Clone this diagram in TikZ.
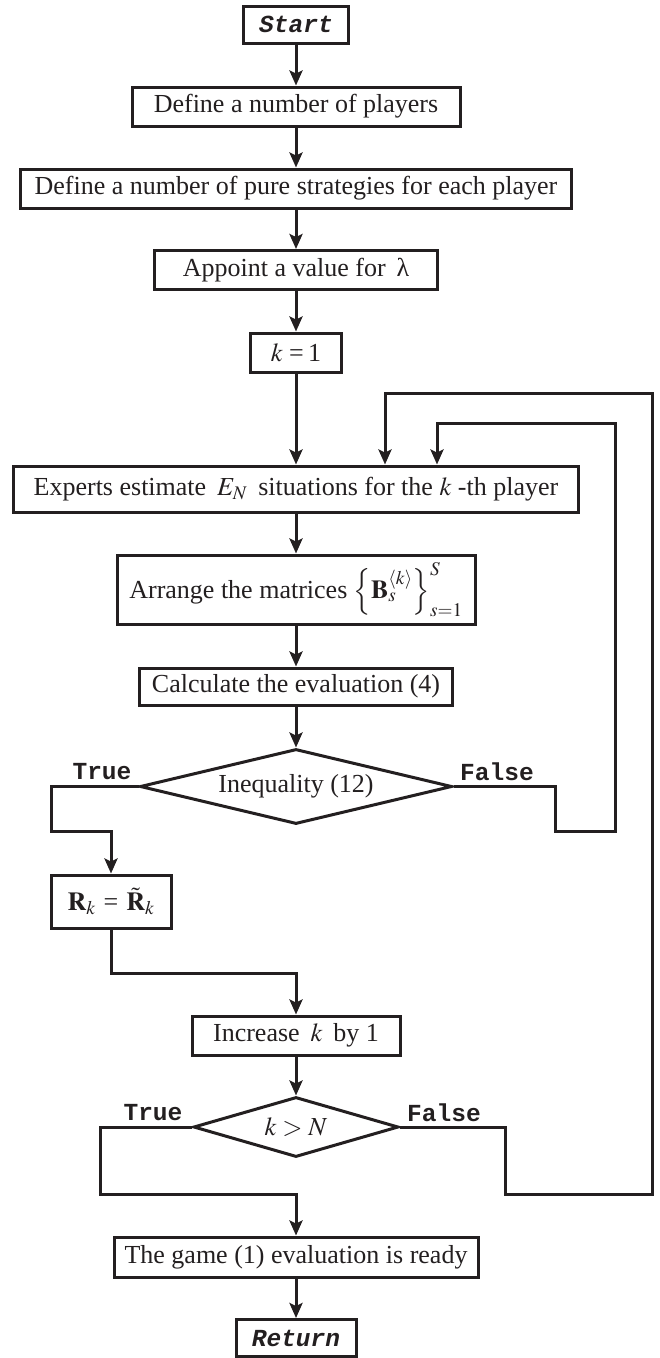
\documentclass[tikz,border=0pt]{standalone}
\usepackage{mathptmx}
\usepackage[no-math]{fontspec}
\setmainfont{Liberation Serif}
\setmonofont{Liberation Mono}
\usepackage{tikz}
\usetikzlibrary{shapes.geometric,arrows.meta}
\definecolor{ink}{HTML}{231F20}

\begin{document}
\begin{tikzpicture}[x=1pt, y=-1pt, line width=3pt, color=ink,
    flow/.style={-{Stealth[length=15pt,width=13pt,inset=3pt]}},
    stepbox/.style={draw, rectangle, inner sep=0pt, minimum height=39pt,
        font=\fontsize{26}{31}\selectfont},
    decision/.style={draw, diamond, aspect=4, inner sep=0pt,
        font=\fontsize{26}{31}\selectfont},
    terminal/.style={stepbox, font=\fontsize{24.5}{29}\selectfont\ttfamily\bfseries\itshape},
    branch/.style={font=\fontsize{24.5}{29}\selectfont\ttfamily\bfseries}]
    \useasboundingbox (0,0) rectangle (660,1358);

    % main column
    \node[terminal, minimum width=105pt, minimum height=37pt] (start) at (296,24.5) {Start};
    \node[stepbox, minimum width=328pt] (players) at (296,106.5) {Define a number of players};
    \node[stepbox, minimum width=551pt] (pure) at (296,188.5) {Define a number of pure strategies for each player};
    \node[stepbox, minimum width=283pt] (lambda) at (296,270) {Appoint a value for \,λ};
    \node[stepbox, minimum width=91pt] (kone) at (296,352.5) {$k$ =\,1};
    \node[stepbox, minimum width=565pt, minimum height=46pt] (experts) at (296,489) {Experts estimate \,$E_N$\, situations for the $k$ -th player};
    \node[stepbox, minimum width=358pt, minimum height=69pt] (arrange) at (296,589.5) {Arrange the matrices $\left\{\mathbf{B}_s^{\langle k\rangle}\right\}_{s=1}^{S}$};
    \node[stepbox, minimum width=313pt, minimum height=37pt] (calc) at (296,686.5) {Calculate the evaluation (4)};
    \node[decision, minimum width=312pt, minimum height=75pt] (ineq) at (296,786.5) {Inequality (12)};
    \node[stepbox, minimum width=120pt, minimum height=53pt] (rk) at (111,901.5) {$\mathbf{R}_k$\hspace{8pt}=\hspace{8pt}$\tilde{\mathbf{R}}_k$};
    \node[stepbox, minimum width=208pt] (incr) at (296,1035.5) {Increase \,$k$\, by 1};
    \node[decision, minimum width=205pt, minimum height=60pt] (kn) at (296,1127) {$k>N$};
    \node[stepbox, minimum width=364pt, minimum height=40pt] (ready) at (296,1257) {The game (1) evaluation is ready};
    \node[terminal, minimum width=120pt, minimum height=37pt] (ret) at (296,1338) {Return};

    % branch labels
    \node[branch] (ineqtrue) at (102,772) {True};
    \node[branch] (ineqfalse) at (497,772) {False};
    \node[branch] (kntrue) at (153,1113) {True};
    \node[branch] (knfalse) at (444,1113) {False};

    % loop entry points
    \coordinate (loopin) at (437,423);
    \coordinate (loopout) at (385,393);

    \draw[flow] (start) -- (players);
    \draw[flow] (players) -- (pure);
    \draw[flow] (pure) -- (lambda);
    \draw[flow] (lambda) -- (kone);
    \draw[flow] (kone) -- (experts);
    \draw[flow] (experts) -- (arrange);
    \draw[flow] (arrange) -- (calc);
    \draw[flow] (calc) -- (ineq);
    \draw[flow] (ineq.west) -| (51,831) -| (rk.north);
    \draw[flow] (ineq.east) -| (555,831) -| (615,423) -- (loopin) -- (loopin |- experts.north);
    \draw[flow] (rk.south) |- (296,973) -- (incr.north);
    \draw[flow] (incr) -- (kn);
    \draw[flow] (kn.west) -| (100,1194) -| (ready.north);
    \draw[flow] (kn.east) -| (505,1194) -| (652,393) -- (loopout) -- (loopout |- experts.north);
    \draw[flow] (ready) -- (ret);
\end{tikzpicture}
\end{document}
